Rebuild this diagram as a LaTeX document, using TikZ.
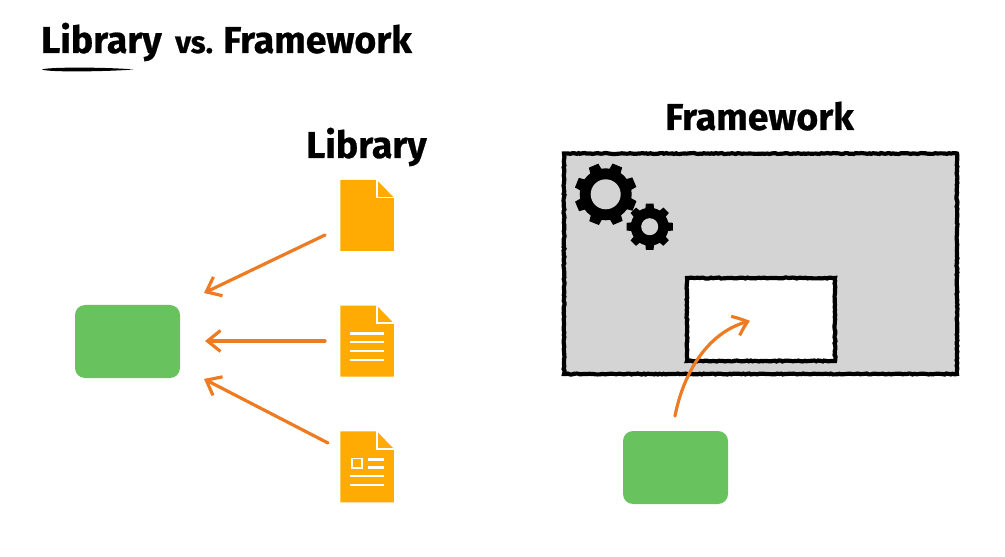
\documentclass[tikz,border=0pt]{standalone}
\usepackage{fontspec}
\setmainfont{Fira Sans}[BoldFeatures={FakeBold=0.7}]
\usetikzlibrary{arrows.meta,decorations.pathmorphing,bending}
\definecolor{docorange}{HTML}{FFAB03}
\definecolor{arrorange}{HTML}{EE7B22}
\definecolor{boxgreen}{HTML}{68C35F}
\definecolor{fwgray}{HTML}{D4D4D4}
\newcommand{\gearshape}[7]{% cx cy outer root hole teeth rot
  \fill[black] (#1,#2) circle[radius=#4];
  \foreach \ti in {1,...,#6} {
    \pgfmathsetmacro{\ang}{#7+360/#6*\ti}
    \pgfmathsetmacro{\da}{360/#6*0.31}
    \pgfmathsetmacro{\db}{360/#6*0.21}
    \fill[black] ({#1+(#4-1)*cos(\ang-\da)},{#2+(#4-1)*sin(\ang-\da)})
      -- ({#1+#3*cos(\ang-\db)},{#2+#3*sin(\ang-\db)})
      -- ({#1+#3*cos(\ang+\db)},{#2+#3*sin(\ang+\db)})
      -- ({#1+(#4-1)*cos(\ang+\da)},{#2+(#4-1)*sin(\ang+\da)}) -- cycle;
  }
  \fill[fwgray] (#1,#2) circle[radius=#5];
}
\tikzset{
  x=1bp,y=-1bp,
  headline/.style={font=\fontsize{37.5}{37.5}\selectfont\bfseries,anchor=base west,inner sep=0pt,text=black},
  sketchbox/.style={draw=black,line width=4.2pt,decorate,decoration={random steps,segment length=2pt,amplitude=0.5pt}},
  greenbox/.style={fill=boxgreen,rounded corners=10bp,draw=none},
  docbody/.style={fill=docorange,draw=none},
  docline/.style={draw=white,line width=3pt},
  docfold/.style={draw=white,line width=2pt},
  sketcharrow/.style={draw=arrorange,line width=3.2pt,line cap=round,-{Straight Barb[length=13pt,width=21pt,line width=3.2pt,bend]}},
}
\newcommand{\docshape}[2]{% x y top-left
  \fill[docbody] (#1,#2) -- ({#1+36.5},#2) -- ({#1+53.5},{#2+17.5}) -- ({#1+53.5},{#2+71}) -- (#1,{#2+71}) -- cycle;
  \draw[docfold] ({#1+36.5},{#2-1}) -- ({#1+36.5},{#2+17.5}) -- ({#1+54.5},{#2+17.5});
}
\begin{document}
\begin{tikzpicture}
\useasboundingbox (0,0) rectangle (1005,557);
\fill[white] (0,0) rectangle (1005,557);
% title
\node[headline] (titlelib) at (41,53) {Library};
\node[headline,font=\fontsize{31}{31}\selectfont\bfseries] (titlevs) at (175,53) {vs.};
\node[headline] (titlefw) at (223,53) {Framework};
\coordinate (ulA) at (42,69.5);
\coordinate (ulB) at (133,69.5);
\fill[black] (ulA) .. controls (48,66.8) and (110,67.2) .. (ulB) .. controls (110,71.5) and (48,72.5) .. (ulA) -- cycle;
% left
\node[headline] (libhead) at (306,158) {Library};
\docshape{340.3}{180}
\docshape{340.3}{305.7}
\docshape{340.3}{431.3}
\node[inner sep=0pt,minimum width=54bp,minimum height=71bp] (docA) at (367,215.5) {};
\node[inner sep=0pt,minimum width=54bp,minimum height=71bp] (docB) at (367,341.2) {};
\node[inner sep=0pt,minimum width=54bp,minimum height=71bp] (docC) at (367,466.8) {};
\foreach \yy in {333.3,342,351,360} \draw[docline] (350,\yy) -- (384,\yy);
\draw[white,line width=2pt] (351.5,458.5) rectangle (362,468);
\foreach \yy in {459.3,467.3} \draw[docline] (368.3,\yy) -- (384,\yy);
\foreach \yy in {476,485} \draw[docline] (350,\yy) -- (384,\yy);
\node[greenbox,minimum width=105bp,minimum height=73bp,inner sep=0pt] (compA) at (127.5,341.5) {};
\coordinate (aAs) at (325,235);
\coordinate (aAe) at (204,293);
\coordinate (aBs) at (325,341);
\coordinate (aBe) at (205,341);
\coordinate (aCs) at (328,443);
\coordinate (aCe) at (204,379);
\draw[sketcharrow] (aAs) -- (aAe);
\draw[sketcharrow] (aBs) -- (aBe);
\draw[sketcharrow] (aCs) -- (aCe);
% right
\node[headline] (fwhead) at (665,130) {Framework};
\fill[fwgray] (564,153.5) rectangle (957,374);
\draw[sketchbox] (564,153.5) rectangle (957,374);
\node[inner sep=0pt,minimum width=148bp,minimum height=83bp,fill=white] (slot) at (761,319.5) {};
\draw[sketchbox] (687,278) rectangle (835,361);
\gearshape{605.7}{194.3}{31.5}{26}{15}{8}{22}
\gearshape{649.7}{226.7}{23.5}{19}{8.5}{8}{0}
\node[greenbox,minimum width=105bp,minimum height=73bp,inner sep=0pt] (compB) at (675.5,467.5) {};
\coordinate (aDs) at (675,416);
\coordinate (aDe) at (750,321);
\draw[sketcharrow] (aDs) .. controls (684,370) and (710,330) .. (aDe);
\end{tikzpicture}
\end{document}
